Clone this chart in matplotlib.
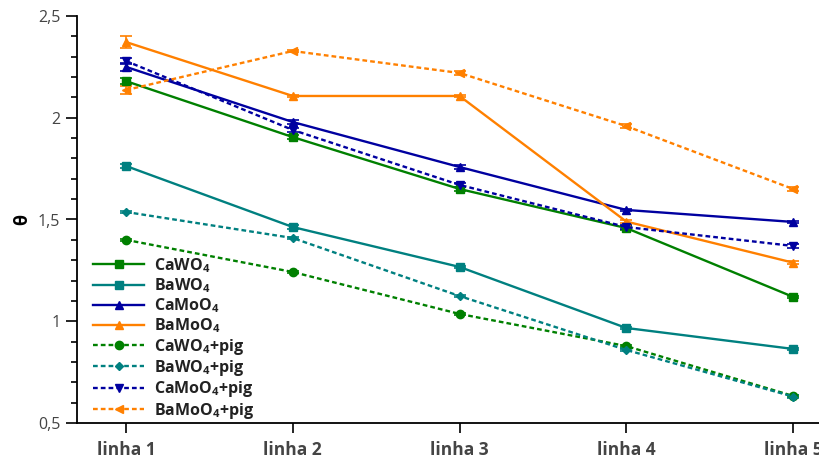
import matplotlib

matplotlib.use("Agg")
import matplotlib.pyplot as plt
import numpy as np
from matplotlib.lines import Line2D
from matplotlib.ticker import FixedLocator, FuncFormatter, MultipleLocator

plt.rcParams["font.family"] = ["Open Sans", "DejaVu Sans"]
plt.rcParams["mathtext.fontset"] = "custom"
plt.rcParams["mathtext.rm"] = "Open Sans"
plt.rcParams["mathtext.bf"] = "Open Sans:bold"

# %% data
linhas = ["linha 1", "linha 2", "linha 3", "linha 4", "linha 5"]

cawo4 = [2.18, 1.905, 1.65, 1.458, 1.12]
bawo4 = [1.763, 1.463, 1.267, 0.967, 0.864]
camoo4 = [2.25, 1.979, 1.758, 1.547, 1.488]
bamoo4 = [2.372, 2.107, 2.107, 1.49, 1.288]
cawo4_pig = [1.40, 1.242, 1.036, 0.878, 0.633]
bawo4_pig = [1.537, 1.409, 1.124, 0.859, 0.63]
camoo4_pig = [2.279, 1.94, 1.67, 1.463, 1.37]
bamoo4_pig = [2.136, 2.328, 2.22, 1.959, 1.65]

cawo4_err = [0.015, 0.008, 0.008, 0.008, 0.006]
bawo4_err = [0.01, 0.008, 0.006, 0.006, 0.006]
camoo4_err = [0.02, 0.008, 0.01, 0.006, 0.006]
bamoo4_err = [0.03, 0.006, 0.006, 0.006, 0.008]
cawo4_pig_err = [0.006, 0.006, 0.006, 0.006, 0.006]
bawo4_pig_err = [0.006, 0.006, 0.006, 0.006, 0.006]
camoo4_pig_err = [0.015, 0.01, 0.01, 0.008, 0.01]
bamoo4_pig_err = [0.02, 0.006, 0.008, 0.008, 0.008]

labels = [
    r"CaWO$_\mathbf{4}$",
    r"BaWO$_\mathbf{4}$",
    r"CaMoO$_\mathbf{4}$",
    r"BaMoO$_\mathbf{4}$",
    r"CaWO$_\mathbf{4}$+pig",
    r"BaWO$_\mathbf{4}$+pig",
    r"CaMoO$_\mathbf{4}$+pig",
    r"BaMoO$_\mathbf{4}$+pig",
]

# %% styles
green = "#008000"
teal = "#008080"
navy = "#0000a0"
orange = "#ff8000"
series = [
    (cawo4, cawo4_err, green, "-", "s", 6),
    (bawo4, bawo4_err, teal, "-", "s", 6),
    (camoo4, camoo4_err, navy, "-", "^", 6),
    (bamoo4, bamoo4_err, orange, "-", "^", 6),
    (cawo4_pig, cawo4_pig_err, green, "--", "o", 6),
    (bawo4_pig, bawo4_pig_err, teal, "--", "D", 4.5),
    (camoo4_pig, camoo4_pig_err, navy, "--", "v", 6),
    (bamoo4_pig, bamoo4_pig_err, orange, "--", "<", 6),
]
lw = 1.7
dash = (2.0, 1.3)

# %% plot
fig = plt.figure(figsize=(8.19, 4.61), dpi=100)
ax = fig.add_axes([77 / 819, 1 - 423 / 461, 1 - 77 / 819, (423 - 16) / 461])
x = np.arange(len(linhas))

handles = []
for (vals, errs, col, ls, mk, ms), lab in zip(series, labels):
    eb = ax.errorbar(
        x, vals, yerr=errs, color=col, ls=ls, lw=lw, marker=mk, ms=ms,
        capsize=4, elinewidth=1.2, capthick=1.2,
    )
    if ls == "--":
        eb[0].set_dashes(dash)
    h = Line2D([], [], color=col, ls=ls, lw=lw, marker=mk, ms=ms)
    if ls == "--":
        h.set_dashes(dash)
    handles.append(h)

ax.set_ylim(0.5, 2.5)
ax.set_xlim((77 - 126) / 166.75, (819 - 126) / 166.75)
ax.yaxis.set_major_locator(MultipleLocator(0.5))
ax.yaxis.set_minor_locator(MultipleLocator(0.1))
ax.yaxis.set_major_formatter(
    FuncFormatter(lambda v, p: ("%g" % v).replace(".", ","))
)
ax.xaxis.set_major_locator(FixedLocator(x))
ax.set_xticklabels(linhas, fontweight="bold", color="#444444", fontsize=12.5)
ax.tick_params(axis="y", which="major", length=8, width=1.2, labelsize=11.5,
               labelcolor="#444444", pad=4)
ax.tick_params(axis="y", which="minor", length=4.5, width=1.2)
ax.tick_params(axis="x", which="major", length=7, width=1.2, pad=6)
for s in ["top", "right"]:
    ax.spines[s].set_visible(False)
for s in ["left", "bottom"]:
    ax.spines[s].set_linewidth(1.3)
ax.set_ylabel("θ", fontweight="bold", fontsize=13, labelpad=5)

leg = ax.legend(
    handles=handles, labels=labels, loc="upper left",
    bbox_to_anchor=(93 / 819, 1 - 256 / 461), bbox_transform=fig.transFigure,
    frameon=False, handlelength=3.2, handletextpad=0.65,
    labelspacing=0.09, borderpad=0, borderaxespad=0,
    prop={"weight": "bold", "size": 11.5},
)
for t in leg.get_texts():
    t.set_color("#222222")

fig.savefig("out.png", dpi=100)
